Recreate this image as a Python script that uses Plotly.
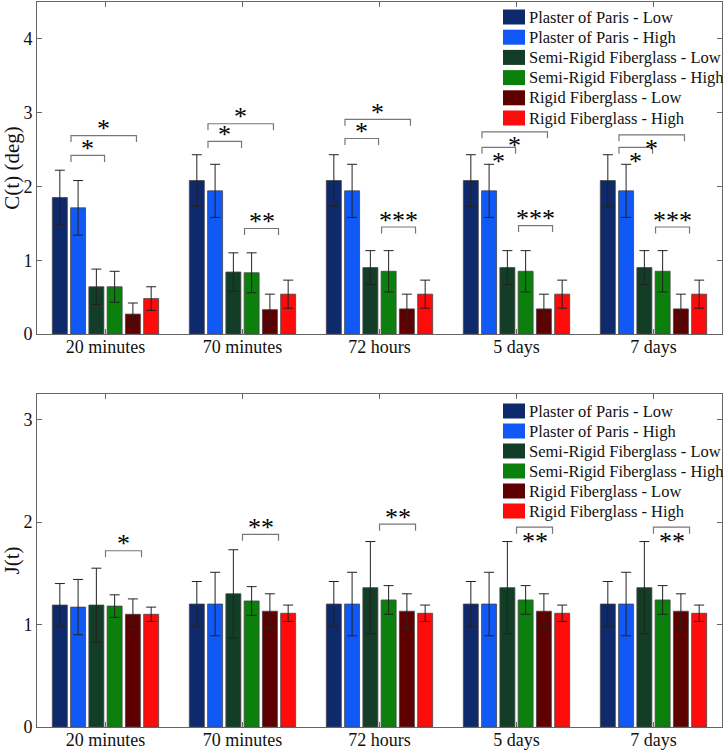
import plotly.graph_objects as go

# ---------------- data ----------------
groups = ["20 minutes", "70 minutes", "72 hours", "5 days", "7 days"]
series = ["Plaster of Paris - Low", "Plaster of Paris - High",
          "Semi-Rigid Fiberglass - Low", "Semi-Rigid Fiberglass - High",
          "Rigid Fiberglass - Low", "Rigid Fiberglass - High"]
colors = ["#0e2a6c", "#1059f7", "#123d26", "#0b800d", "#5e0000", "#ff0b0b"]

C_pop_low = [1.85, 2.08, 2.08, 2.08, 2.08]
C_pop_high = [1.71, 1.94, 1.94, 1.94, 1.94]
C_sr_low = [0.64, 0.84, 0.90, 0.90, 0.90]
C_sr_high = [0.64, 0.83, 0.85, 0.85, 0.85]
C_rf_low = [0.27, 0.33, 0.34, 0.34, 0.34]
C_rf_high = [0.48, 0.54, 0.54, 0.54, 0.54]

C_err_pop_low = [0.37, 0.35, 0.35, 0.35, 0.35]
C_err_pop_high = [0.37, 0.36, 0.36, 0.36, 0.36]
C_err_sr_low = [0.24, 0.26, 0.23, 0.23, 0.23]
C_err_sr_high = [0.21, 0.27, 0.28, 0.28, 0.28]
C_err_rf_low = [0.15, 0.21, 0.20, 0.20, 0.20]
C_err_rf_high = [0.16, 0.19, 0.19, 0.19, 0.19]

J_pop_low = [1.19, 1.20, 1.20, 1.20, 1.20]
J_pop_high = [1.17, 1.20, 1.20, 1.20, 1.20]
J_sr_low = [1.19, 1.30, 1.36, 1.36, 1.36]
J_sr_high = [1.18, 1.23, 1.24, 1.24, 1.24]
J_rf_low = [1.10, 1.13, 1.13, 1.13, 1.13]
J_rf_high = [1.10, 1.11, 1.11, 1.11, 1.11]

J_err_pop_low = [0.21, 0.22, 0.22, 0.22, 0.22]
J_err_pop_high = [0.27, 0.31, 0.31, 0.31, 0.31]
J_err_sr_low = [0.36, 0.43, 0.45, 0.45, 0.45]
J_err_sr_high = [0.11, 0.14, 0.14, 0.14, 0.14]
J_err_rf_low = [0.15, 0.17, 0.17, 0.17, 0.17]
J_err_rf_high = [0.07, 0.08, 0.08, 0.08, 0.08]

C_means = [C_pop_low, C_pop_high, C_sr_low, C_sr_high, C_rf_low, C_rf_high]
C_errs = [C_err_pop_low, C_err_pop_high, C_err_sr_low, C_err_sr_high, C_err_rf_low, C_err_rf_high]
J_means = [J_pop_low, J_pop_high, J_sr_low, J_sr_high, J_rf_low, J_rf_high]
J_errs = [J_err_pop_low, J_err_pop_high, J_err_sr_low, J_err_sr_high, J_err_rf_low, J_err_rf_high]

# significance brackets: (group index, left offset, right offset, height, label, star side)
C_brackets = [
    (0, -0.252, -0.007, 2.42, "*", "up"), (0, -0.252, 0.226, 2.69, "*", "up"),
    (1, -0.252, -0.007, 2.61, "*", "up"), (1, -0.252, 0.226, 2.85, "*", "up"),
    (1, 0.015, 0.263, 1.43, "**", "up"),
    (2, -0.252, -0.007, 2.65, "*", "up"), (2, -0.252, 0.226, 2.91, "*", "up"),
    (2, 0.015, 0.263, 1.45, "***", "up"),
    (3, -0.252, -0.007, 2.53, "*", "down"), (3, -0.252, 0.226, 2.74, "*", "down"),
    (3, 0.015, 0.263, 1.47, "***", "up"),
    (4, -0.252, -0.007, 2.53, "*", "down"), (4, -0.252, 0.226, 2.70, "*", "down"),
    (4, 0.015, 0.263, 1.45, "***", "up"),
]
J_brackets = [
    (0, 0.0, 0.263, 1.72, "*", "up"),
    (1, 0.0, 0.263, 1.88, "**", "up"),
    (2, 0.0, 0.263, 1.98, "**", "up"),
    (3, 0.0, 0.263, 1.95, "**", "down"),
    (4, 0.0, 0.263, 1.95, "**", "down"),
]

# ---------------- layout constants ----------------
W, H = 727, 751
ML, MR, MT, MB = 37, 5, 2, 24
PW, PH = W - ML - MR, H - MT - MB
FONT = "Liberation Serif"
AX = "#666666"

top_dom = [(727 - 334) / PH, 1.0]
bot_dom = [0.0, (727 - 394) / PH]
C_range = [0, 4.5]
J_range = [0, 3.25]


def px_x(px):
    return (px - ML) / PW


def px_y(py):
    return (H - MB - py) / PH


fig = go.Figure()

for i, name in enumerate(series):
    fig.add_trace(go.Bar(
        x=groups, y=C_means[i], name=name, xaxis="x", yaxis="y",
        marker=dict(color=colors[i], line=dict(color="rgba(70,70,70,0.8)", width=1)),
        error_y=dict(type="data", array=C_errs[i], color="#222222", thickness=1, width=5),
        showlegend=False))
    fig.add_trace(go.Bar(
        x=groups, y=J_means[i], name=name, xaxis="x2", yaxis="y2",
        marker=dict(color=colors[i], line=dict(color="rgba(70,70,70,0.8)", width=1)),
        error_y=dict(type="data", array=J_errs[i], color="#222222", thickness=1, width=5),
        showlegend=False))

shapes = []
annotations = []


def add_brackets(brackets, xref, yref, yrange, dom):
    unit_px = PH * (dom[1] - dom[0]) / (yrange[1] - yrange[0])
    leg = 6.5 / unit_px
    for g, x0o, x1o, yv, lab, side in brackets:
        x0, x1 = g + x0o, g + x1o
        shapes.append(dict(
            type="path", xref=xref, yref=yref,
            path=f"M {x0},{yv - leg} L {x0},{yv} L {x1},{yv} L {x1},{yv - leg}",
            line=dict(color="#777777", width=1.2)))
        annotations.append(dict(
            x=(x0 + x1) / 2, y=yv, xref=xref, yref=yref, text=lab,
            showarrow=False, yanchor="middle", xanchor="center",
            yshift=7 if side == "up" else -14,
            font=dict(family=FONT, size=26, color="black")))


add_brackets(C_brackets, "x", "y", C_range, top_dom)
add_brackets(J_brackets, "x2", "y2", J_range, bot_dom)


def add_legend(row0, step):
    for i, name in enumerate(series):
        cy = row0 + step * i
        shapes.append(dict(type="rect", xref="paper", yref="paper",
                           x0=px_x(503), x1=px_x(525), y0=px_y(cy + 7.5), y1=px_y(cy - 7.5),
                           fillcolor=colors[i], line=dict(width=0)))
        annotations.append(dict(x=px_x(527), y=px_y(cy), xref="paper", yref="paper",
                                text=name, showarrow=False, xanchor="left", yanchor="middle",
                                font=dict(family=FONT, size=16.5, color="#111111")))


add_legend(17, 20.2)
add_legend(411, 20.0)

xaxis_common = dict(
    type="category", range=[-0.5, 4.5], showline=True, linecolor=AX, linewidth=1,
    mirror="ticks", ticks="inside", ticklen=5, tickcolor=AX, automargin=False,
    ticklabelstandoff=-4,
    tickfont=dict(family=FONT, size=18, color="#111111"), showgrid=False, zeroline=False)
yaxis_common = dict(
    showline=True, linecolor=AX, linewidth=1, mirror="ticks", ticks="inside",
    ticklen=5, tickcolor=AX, tickfont=dict(family=FONT, size=18, color="#111111"),
    showgrid=False, zeroline=False, automargin=False)

fig.update_layout(
    width=W, height=H, margin=dict(l=ML, r=MR, t=MT, b=MB, autoexpand=False),
    paper_bgcolor="white", plot_bgcolor="white",
    barmode="group", bargap=0.2, bargroupgap=0.18,
    xaxis=dict(domain=[0, 1], anchor="y", **xaxis_common),
    xaxis2=dict(domain=[0, 1], anchor="y2", **xaxis_common),
    yaxis=dict(domain=top_dom, anchor="x", range=C_range, tickvals=[0, 1, 2, 3, 4],
               title=dict(text="C(t) (deg)", font=dict(family=FONT, size=21, color="#111111"), standoff=2),
               **yaxis_common),
    yaxis2=dict(domain=bot_dom, anchor="x2", range=J_range, tickvals=[0, 1, 2, 3],
                title=dict(text="J(t)", font=dict(family=FONT, size=21, color="#111111"), standoff=2),
                **yaxis_common),
    shapes=shapes, annotations=annotations, showlegend=False,
)

fig.write_html("out.html", config={"displayModeBar": False},
               post_script="document.body.style.margin='0';document.body.style.padding='0';"
                           "document.body.style.overflow='hidden';")
